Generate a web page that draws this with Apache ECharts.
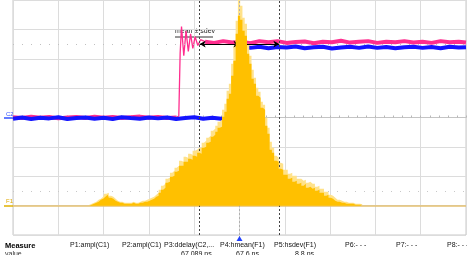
<!DOCTYPE html>
<html>
<head>
<meta charset="utf-8">
<script src="https://cdn.jsdelivr.net/npm/echarts@6/dist/echarts.min.js"></script>
<style>
html,body{margin:0;padding:0;background:#fff}
#main{width:467px;height:255px}
</style>
</head>
<body>
<div id="main"></div>
<script>
// C1 (pink) trace: time in ns, level in divisions
var c1Time = [17.6,19.6,21.6,23.6,25.6,27.6,29.6,31.6,33.6,35.6,37.6,39.6,41.6,43.6,45.6,47.6,49.6,51.6,53.6,
  54.2,54.5,54.8,55.3,55.8,56.3,56.8,57.3,57.8,58.4,59.0,
  60,62,64,66,68,70,72,74,76,78,80,82,84,86,88,90,92,94,96,98,100,102,104,106,108,110,112,114,116,117.6];
var c1Level = [0.01,-0.02,0.03,-0.01,0.02,-0.03,0.0,0.02,-0.02,0.03,-0.01,0.02,-0.02,0.01,0.03,-0.01,0.02,-0.02,0.0,
  0.05,2.2,3.1,2.1,2.95,2.25,2.85,2.35,2.75,2.45,2.65,
  2.58,2.54,2.6,2.55,2.58,2.53,2.6,2.56,2.6,2.54,2.57,2.59,2.53,2.58,2.56,2.61,2.55,2.58,2.6,2.54,2.58,2.56,2.6,2.55,2.58,2.54,2.6,2.56,2.58,2.55];
// index range of the edge and its ringing
var c1EdgeFrom = 18, c1EdgeTo = 31;

// C2 (blue) trace
var c2Time = [17.6,19.6,21.6,23.6,25.6,27.6,29.6,31.6,33.6,35.6,37.6,39.6,41.6,43.6,45.6,47.6,49.6,51.6,53.6,55.6,57.6,59.6,61.6,63.6,65.6,
  67.0,67.4,68,70,72,74,76,78,80,82,84,86,88,90,92,94,96,98,100,102,104,106,108,110,112,114,116,117.6];
var c2Level = [-0.04,0.0,-0.05,-0.01,-0.03,0.01,-0.05,-0.02,0.0,-0.04,-0.01,-0.05,0.01,-0.02,-0.04,0.0,-0.03,0.0,-0.05,-0.02,0.01,-0.04,-0.01,-0.04,0.0,
  0.0,2.4,2.42,2.37,2.41,2.36,2.4,2.38,2.42,2.36,2.39,2.41,2.35,2.38,2.41,2.37,2.42,2.37,2.4,2.36,2.39,2.41,2.37,2.4,2.36,2.41,2.38,2.39];

// F1 histogram of delay, bins of 0.5 ns starting at 34 ns
var histStart = 34.0;
var histStep = 0.5;
var histCounts = [0,0,1,2,3,4,6,7,9,11,
  8,7,5,4,3,3,2,2,2,2,
  3,2,2,3,3,4,4,5,6,7,
  9,10,13,16,18,23,24,29,30,34,
  35,40,40,44,44,47,46,50,49,53,
  52,58,59,63,64,69,71,74,78,79,
  89,94,107,112,130,145,172,190,186,175,
  170,152,142,127,122,110,108,98,96,80,
  72,56,53,45,44,37,36,31,31,27,
  28,24,25,22,23,20,22,18,19,17,
  18,15,16,13,13,10,11,8,7,5,
  4,4,3,3,2,2,2,2,1,1,
  1,1,0];
var histPeaks = [0,1,2,3,4,6,7,9,12,13,
  10,9,7,5,4,4,3,3,3,3,
  4,3,3,4,5,5,6,7,8,9,
  11,13,16,20,22,27,28,33,35,38,
  40,45,44,49,48,52,51,55,56,58,
  58,63,65,68,70,75,77,80,84,86,
  96,102,115,122,142,160,185,206,200,188,
  182,162,150,136,128,118,114,104,101,88,
  78,64,58,50,48,43,42,36,36,32,
  33,30,30,27,27,25,26,23,24,22,
  22,19,20,17,17,14,14,11,10,8,
  6,6,5,4,4,3,3,3,2,2,
  2,1,1];

var meanNs = 67.6;
var sdevNs = 8.8;
var measureLabels = ['P1:ampl(C1)','P2:ampl(C1)','P3:ddelay(C2,...','P4:hmean(F1)','P5:hsdev(F1)','P6:- - -','P7:- - -','P8:- - -'];
var measureValues = ['','','67.089 ns','67.6 ns','8.8 ns','','',''];

function pairs(xs, ys, from, to) {
  var out = [];
  for (var i = from; i < to; i++) out.push([xs[i], ys[i]]);
  return out;
}
function bins(counts) {
  var out = [];
  for (var i = 0; i < counts.length; i++) out.push([histStart + i * histStep, counts[i]]);
  return out;
}

// flat parts of C1 drawn thick, the edge thin
var c1Flat = pairs(c1Time, c1Level, 0, c1EdgeFrom + 1)
  .concat([[c1Time[c1EdgeFrom] + 0.1, null]])
  .concat(pairs(c1Time, c1Level, c1EdgeTo - 1, c1Level.length));
var c1Edge = pairs(c1Time, c1Level, c1EdgeFrom, c1EdgeTo);

var chart = echarts.init(document.getElementById('main'));
var FONT = 'Liberation Sans, Arial, sans-serif';

// bottom text
var labelX = [70,122,164,220,274,345,396,447];
var valueX = [0,0,181,236,295,0,0,0];
var graphics = [
  {type:'text', left:5, top:242, style:{text:'Measure', font:'bold 7.5px ' + FONT, fill:'#000'}},
  {type:'text', left:5, top:251, style:{text:'value', font:'7px ' + FONT, fill:'#333'}},
  {type:'text', left:175, top:28, style:{text:'mean \u00b1 sdev', font:'7px ' + FONT, fill:'#222'}},
  {type:'line', shape:{x1:175, y1:37, x2:213, y2:37}, style:{stroke:'#333', lineWidth:1}},
  {type:'text', left:6, top:111, style:{text:'C2', font:'6px ' + FONT, fill:'#3050ff'}},
  {type:'line', shape:{x1:4, y1:118, x2:13, y2:118}, style:{stroke:'#3050ff', lineWidth:1.5}},
  {type:'text', left:6, top:198, style:{text:'F1', font:'6px ' + FONT, fill:'#e0a800'}},
  {type:'line', shape:{x1:4, y1:206, x2:13, y2:206}, style:{stroke:'#e0b000', lineWidth:1.5}}
];
measureLabels.forEach(function (t, i) {
  graphics.push({type:'text', left:labelX[i], top:242, style:{text:t, font:'7px ' + FONT, fill:'#111'}});
  if (measureValues[i]) {
    graphics.push({type:'text', left:valueX[i], top:251, style:{text:measureValues[i], font:'7px ' + FONT, fill:'#111'}});
  }
});

var option = {
  animation: false,
  backgroundColor: '#fff',
  grid: {left: 13, top: 0, width: 453, height: 235, show: true, borderColor: '#c8c8c8', borderWidth: 1},
  xAxis: {
    type: 'value', min: 17.6, max: 117.6, interval: 10,
    axisLine: {show: true, onZero: true, onZeroAxisIndex: 0, lineStyle: {color: '#c4c4c4', width: 1}},
    axisTick: {show: true, inside: true, length: 2, lineStyle: {color: '#b8b8b8'}},
    minorTick: {show: true, splitNumber: 5, length: 2, lineStyle: {color: '#b8b8b8'}},
    axisLabel: {show: false},
    splitLine: {show: true, lineStyle: {color: '#dcdcdc', width: 1}}
  },
  yAxis: [
    {type: 'value', min: -4, max: 4, interval: 1, axisLine: {show: false}, axisTick: {show: false},
     axisLabel: {show: false}, splitLine: {show: true, lineStyle: {color: '#dcdcdc', width: 1}}},
    {type: 'value', min: -29.3, max: 205.7, show: false, splitLine: {show: false}}
  ],
  series: [
    {
      name: 'C1', type: 'line', yAxisIndex: 0, showSymbol: false, z: 2, connectNulls: false,
      data: c1Flat,
      lineStyle: {color: '#ff2d8e', width: 4}, itemStyle: {color: '#ff2d8e'}
    },
    {
      name: 'C1 edge', type: 'line', yAxisIndex: 0, showSymbol: false, z: 2,
      data: c1Edge,
      lineStyle: {color: '#ff2d8e', width: 1.3}, itemStyle: {color: '#ff2d8e'}
    },
    {
      name: 'C2', type: 'line', yAxisIndex: 0, showSymbol: false, z: 3,
      data: pairs(c2Time, c2Level, 0, c2Level.length),
      lineStyle: {color: '#1414ff', width: 4}, itemStyle: {color: '#1414ff'}
    },
    {
      name: 'F1 peaks', type: 'line', yAxisIndex: 1, step: 'middle', showSymbol: false, z: 4,
      data: bins(histPeaks),
      lineStyle: {width: 0}, areaStyle: {color: '#ffe28a', opacity: 1},
      markLine: {
        silent: true, symbol: 'none', label: {show: false},
        data: [
          {yAxis: 0, lineStyle: {color: '#e4c070', type: 'solid', width: 1.5}},
          {yAxis: 14.7, lineStyle: {color: '#c8c8c8', type: [1, 8], width: 1}}
        ]
      }
    },
    {
      name: 'F1', type: 'line', yAxisIndex: 1, step: 'middle', showSymbol: false, z: 5,
      data: bins(histCounts),
      lineStyle: {width: 0}, areaStyle: {color: '#ffc000', opacity: 1}
    },
    {
      name: 'cursors', type: 'line', yAxisIndex: 0, data: [], z: 6,
      markLine: {
        silent: true, symbol: 'none', label: {show: false},
        data: [
          {xAxis: meanNs, lineStyle: {color: '#b0b0b0', type: [2, 2], width: 1}},
          {xAxis: meanNs - sdevNs, lineStyle: {color: '#444', type: [2, 2], width: 1}},
          {xAxis: meanNs + sdevNs, lineStyle: {color: '#444', type: [2, 2], width: 1}},
          {yAxis: 2.5, lineStyle: {color: '#c0c0c0', type: [1, 8], width: 1}}
        ]
      }
    },
    {
      name: 'sdev arrows', type: 'line', yAxisIndex: 0, data: [], z: 7,
      markLine: {
        silent: true, symbol: ['arrow', 'arrow'], symbolSize: [5, 6], label: {show: false},
        lineStyle: {color: '#000', type: 'solid', width: 1},
        itemStyle: {color: '#000'},
        data: [
          [{coord: [meanNs - sdevNs, 2.5]}, {coord: [meanNs, 2.5]}],
          [{coord: [meanNs, 2.5]}, {coord: [meanNs + sdevNs, 2.5]}]
        ]
      }
    }
  ],
  graphic: graphics
};
chart.setOption(option);

// mean marker below the grid
var mx = chart.convertToPixel({xAxisIndex: 0}, meanNs);
chart.setOption({
  graphic: graphics.concat([
    {type: 'line', shape: {x1: mx, y1: 235, x2: mx, y2: 238}, style: {stroke: '#b0b0b0', lineWidth: 1}},
    {type: 'polygon', shape: {points: [[mx - 3, 241], [mx + 3, 241], [mx, 236]]}, style: {fill: '#2040ff'}}
  ])
});
</script>
</body>
</html>
